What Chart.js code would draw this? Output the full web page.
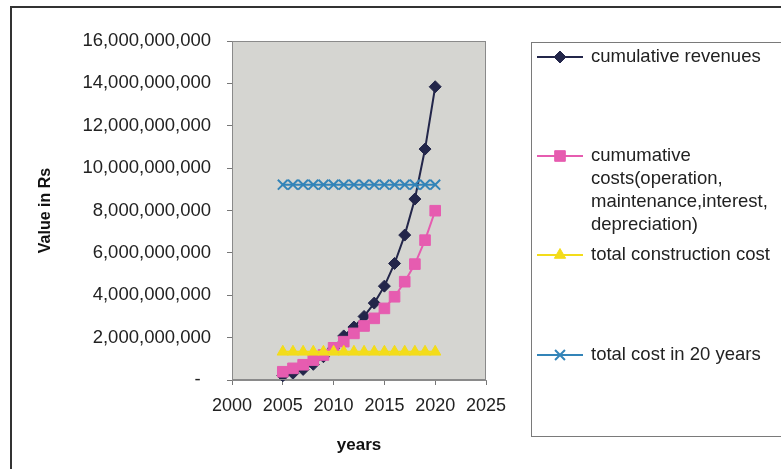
<!DOCTYPE html>
<html>
<head>
<meta charset="utf-8">
<script src="https://cdn.jsdelivr.net/npm/chart.js@4/dist/chart.umd.min.js"></script>
<style>
  html, body { margin: 0; padding: 0; background: #ffffff; }
  #wrap { position: relative; width: 781px; height: 469px; }
  canvas { display: block; }
</style>
</head>
<body>
<div id="wrap"><canvas id="c" width="781" height="469"></canvas></div>
<script>
// Years on the horizontal axis
const years = [2005, 2006, 2007, 2008, 2009, 2010, 2011, 2012, 2013, 2014, 2015, 2016, 2017, 2018, 2019, 2020];

// Values in Rs
const cumulativeRevenues = [0.20e9, 0.32e9, 0.50e9, 0.74e9, 1.10e9, 1.50e9, 2.08e9, 2.50e9, 3.00e9, 3.63e9, 4.43e9, 5.50e9, 6.84e9, 8.54e9, 10.90e9, 13.84e9];
const cumulativeCosts = [0.39e9, 0.55e9, 0.72e9, 0.94e9, 1.18e9, 1.52e9, 1.81e9, 2.20e9, 2.55e9, 2.91e9, 3.38e9, 3.93e9, 4.64e9, 5.47e9, 6.60e9, 7.99e9];
const totalConstructionCost = [1.33e9, 1.33e9, 1.33e9, 1.33e9, 1.33e9, 1.33e9, 1.33e9, 1.33e9, 1.33e9, 1.33e9, 1.33e9, 1.33e9, 1.33e9, 1.33e9, 1.33e9, 1.33e9];
const totalCost20Years = [9.22e9, 9.22e9, 9.22e9, 9.22e9, 9.22e9, 9.22e9, 9.22e9, 9.22e9, 9.22e9, 9.22e9, 9.22e9, 9.22e9, 9.22e9, 9.22e9, 9.22e9, 9.22e9];

// Series names as shown in the legend (one entry per text line)
const seriesNames = [
  ['cumulative revenues'],
  ['cumumative', 'costs(operation,', 'maintenance,interest,', 'depreciation)'],
  ['total construction cost'],
  ['total cost in 20 years']
];

const FONT = '"Liberation Sans", Arial, sans-serif';
const COLORS = ['#23264a', '#e65cb0', '#f3dc1a', '#3384b8'];

const toPoints = (vals) => vals.map((v, i) => ({ x: years[i], y: v }));

function fmt(v) {
  if (v === 0) return '-  ';
  return Math.round(v).toString().replace(/\B(?=(\d{3})+(?!\d))/g, ',');
}

// Grey plot area fill and border
const plotBackground = {
  id: 'plotBackground',
  beforeDatasetsDraw(chart) {
    const { ctx, chartArea: a } = chart;
    ctx.save();
    ctx.fillStyle = '#d5d5d1';
    ctx.fillRect(a.left, a.top, a.right - a.left, a.bottom - a.top);
    ctx.restore();
  },
  afterDatasetsDraw(chart) {
    const { ctx, chartArea: a } = chart;
    ctx.save();
    ctx.strokeStyle = '#8a8a8a';
    ctx.lineWidth = 1;
    ctx.strokeRect(a.left + 0.5, a.top + 0.5, a.right - a.left - 1, a.bottom - a.top - 1);
    ctx.restore();
  }
};

// Outer frame and the legend panel on the right
const frameAndLegend = {
  id: 'frameAndLegend',
  afterDraw(chart) {
    const { ctx } = chart;
    ctx.save();
    // outer frame (left and top edges)
    ctx.strokeStyle = '#333333';
    ctx.lineWidth = 2;
    ctx.beginPath();
    ctx.moveTo(11, 480);
    ctx.lineTo(11, 7);
    ctx.lineTo(790, 7);
    ctx.stroke();

    // legend panel
    ctx.strokeStyle = '#7a7a7a';
    ctx.lineWidth = 1;
    ctx.strokeRect(531.5, 42.5, 300, 394);

    const rows = [57, 156, 255, 355];
    const lineGap = 23;
    ctx.font = '18.5px ' + FONT;
    ctx.textBaseline = 'middle';
    ctx.textAlign = 'left';
    chart.data.datasets.forEach((ds, i) => {
      const y = rows[i];
      ctx.strokeStyle = ds.borderColor;
      ctx.lineWidth = ds.borderWidth;
      ctx.beginPath();
      ctx.moveTo(537, y);
      ctx.lineTo(583, y);
      ctx.stroke();
      ctx.fillStyle = ds.pointBackgroundColor;
      ctx.strokeStyle = ds.pointBorderColor;
      ctx.lineWidth = ds.pointBorderWidth;
      Chart.helpers.drawPoint(ctx, {
        pointStyle: ds.pointStyle,
        radius: ds.pointRadius,
        borderWidth: ds.pointBorderWidth
      }, 560, y);
      ctx.fillStyle = '#222222';
      seriesNames[i].forEach((t, k) => ctx.fillText(t, 591, y + k * lineGap));
    });
    ctx.restore();
  }
};

function series(label, values, color, style, radius, order) {
  return {
    label: label,
    data: toPoints(values),
    borderColor: color,
    backgroundColor: color,
    borderWidth: 2,
    pointStyle: style,
    pointRadius: radius,
    pointHoverRadius: radius,
    pointBackgroundColor: color,
    pointBorderColor: color,
    pointBorderWidth: style === 'crossRot' ? 2 : 1,
    tension: 0,
    order: order
  };
}

new Chart(document.getElementById('c'), {
  type: 'line',
  data: {
    datasets: [
      series(seriesNames[0].join(' '), cumulativeRevenues, COLORS[0], 'rectRot', 6, 4),
      series(seriesNames[1].join(' '), cumulativeCosts, COLORS[1], 'rect', 7.5, 3),
      series(seriesNames[2].join(' '), totalConstructionCost, COLORS[2], 'triangle', 6.5, 2),
      series(seriesNames[3].join(' '), totalCost20Years, COLORS[3], 'crossRot', 7, 1)
    ]
  },
  options: {
    responsive: false,
    animation: false,
    clip: false,
    layout: { padding: { left: 0, right: 295, top: 41, bottom: 0 } },
    plugins: {
      legend: { display: false },
      tooltip: { enabled: false }
    },
    scales: {
      x: {
        type: 'linear',
        min: 2000,
        max: 2025,
        afterFit(s) { s.height = 89; },
        ticks: {
          stepSize: 5,
          padding: 10,
          color: '#222222',
          font: { family: FONT, size: 18 },
          callback: (v) => String(v)
        },
        grid: {
          drawOnChartArea: false,
          drawTicks: true,
          tickLength: 5,
          tickColor: '#777777'
        },
        border: { display: true, color: '#8a8a8a', width: 1 },
        title: {
          display: true,
          text: 'years',
          color: '#111111',
          font: { family: FONT, size: 17, weight: 'bold' },
          padding: { top: 0, bottom: 13 }
        }
      },
      y: {
        min: 0,
        max: 16e9,
        afterFit(s) { s.width = 232; },
        ticks: {
          stepSize: 2e9,
          padding: 16,
          color: '#222222',
          font: { family: FONT, size: 18.5 },
          callback: (v) => fmt(v)
        },
        grid: {
          drawOnChartArea: false,
          drawTicks: true,
          tickLength: 5,
          tickColor: '#777777'
        },
        border: { display: true, color: '#8a8a8a', width: 1 },
        title: {
          display: true,
          text: 'Value in Rs',
          color: '#111111',
          font: { family: FONT, size: 16, weight: 'bold' },
          padding: { top: 36, bottom: 0 }
        }
      }
    }
  },
  plugins: [plotBackground, frameAndLegend]
});
</script>
</body>
</html>
